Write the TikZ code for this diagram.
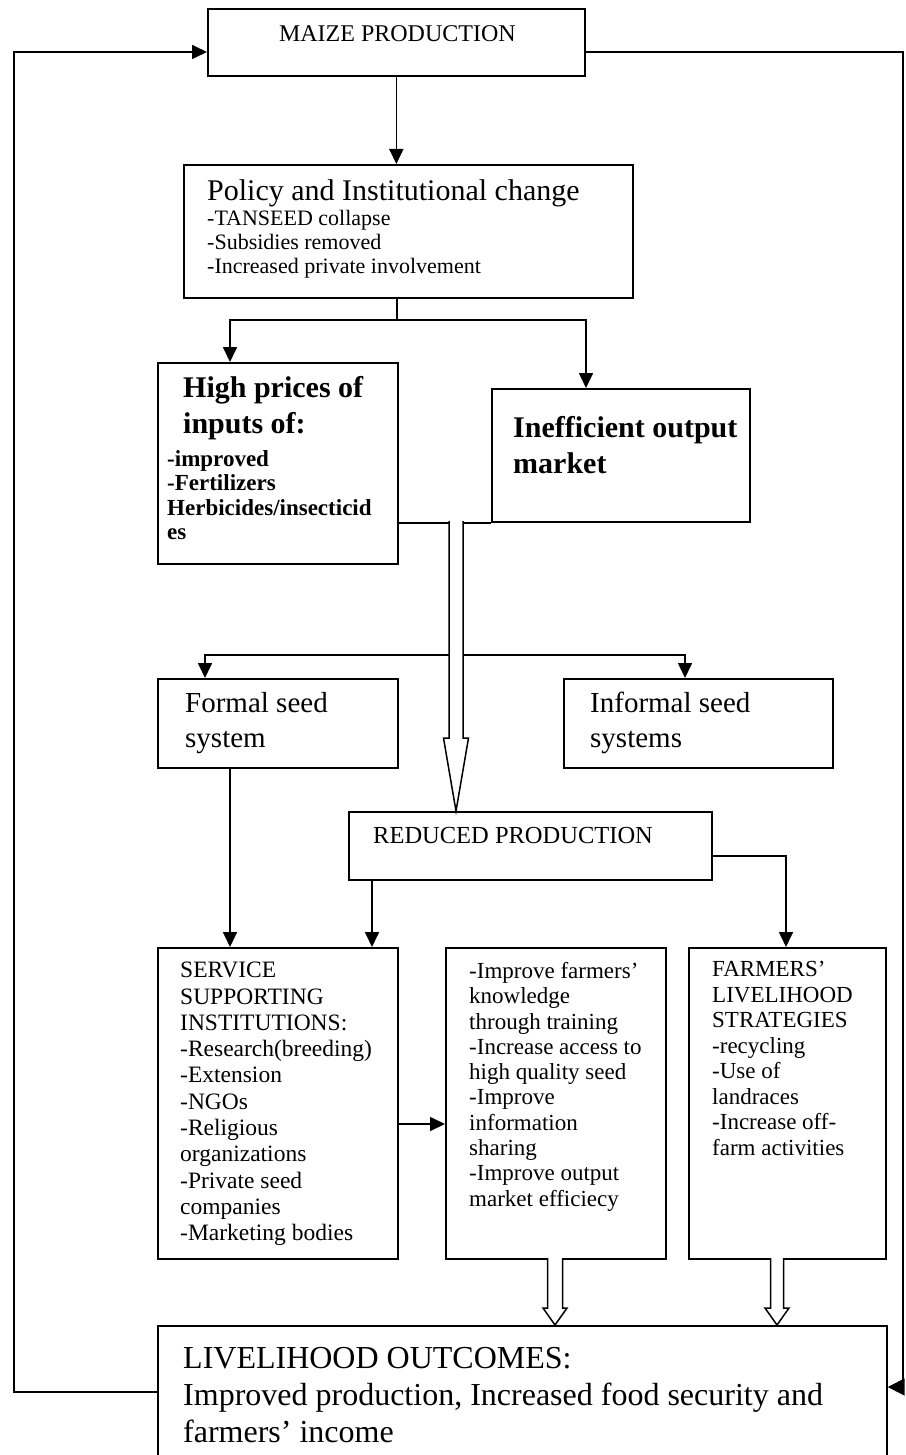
\documentclass[tikz,border=0pt]{standalone}
\usepackage{fontspec}
\setmainfont{Liberation Serif}
\usetikzlibrary{arrows.meta,calc}
\tikzset{
  box/.style={draw, line width=1.7pt, inner sep=0pt, anchor=north west},
  conn/.style={line width=1.7pt},
  arr/.style={conn, -{Triangle[length=15pt,width=14pt]}},
  bigarr/.style={conn, -{Triangle[length=17pt,width=17pt]}},
  hollow/.style={line width=1.5pt, fill=white, line join=miter},
  txt/.style={inner sep=0pt, anchor=north west, align=left},
}
\newcommand{\boxat}[5]{\node[box, minimum width=#4pt, minimum height=#5pt] (#1) at (#2,#3) {};}
\newcommand{\hollowdown}[6]{% x, ytop, yshaftend, ytip, halfshaft, halfhead
  \draw[hollow] (#1-#5,#2) -- (#1-#5,#3) -- (#1-#6,#3) -- (#1,#4) -- (#1+#6,#3) -- (#1+#5,#3) -- (#1+#5,#2);}
\begin{document}
\begin{tikzpicture}[x=1pt,y=-1pt]
\useasboundingbox (0,0) rectangle (905,1455);
% boxes
\boxat{maize}{207}{8}{377}{67}
\boxat{policy}{183}{164}{449}{133}
\boxat{high}{157}{362}{240}{201}
\boxat{ineff}{491}{388}{258}{133}
\boxat{formal}{157}{678}{240}{89}
\boxat{informal}{563}{678}{269}{89}
\boxat{reduced}{348}{811}{363}{68}
\boxat{service}{157}{947}{240}{311}
\boxat{middle}{445}{947}{220}{311}
\boxat{farmers}{688}{947}{197}{311}
\boxat{outcome}{157}{1325}{729}{140}
% texts
\node[txt, anchor=north, font=\fontsize{24}{28}\selectfont] (tmaize) at ($(maize.north)+(1,17)$) {MAIZE PRODUCTION};
\node[txt, font=\fontsize{30}{34}\selectfont] (tpol) at (207,179) {Policy and Institutional change};
\node[txt, font=\fontsize{22}{24}\selectfont] (tpol2) at (207,210) {-TANSEED collapse\\-Subsidies removed\\-Increased private involvement};
\node[txt, font=\bfseries\fontsize{30}{36}\selectfont] (thigh) at (183,376) {High prices of\\inputs of:};
\node[txt, font=\bfseries\fontsize{23}{24.5}\selectfont] (thigh2) at (167,450) {-improved\\-Fertilizers\\Herbicides/insecticid\\es};
\node[txt, font=\bfseries\fontsize{30}{36}\selectfont] (tineff) at (513,416) {Inefficient output\\market};
\node[txt, font=\fontsize{29}{35}\selectfont] (tformal) at (185,692) {Formal seed\\system};
\node[txt, font=\fontsize{29}{35}\selectfont] (tinformal) at (590,692) {Informal seed\\systems};
\node[txt, font=\fontsize{24.5}{28}\selectfont] (treduced) at (373,827) {REDUCED PRODUCTION};
\node[txt, font=\fontsize{23.5}{26.3}\selectfont] (tservice) at (180,962) {SERVICE\\SUPPORTING\\INSTITUTIONS:\\-Research(breeding)\\-Extension\\-NGOs\\-Religious\\organizations\\-Private seed\\companies\\-Marketing bodies};
\node[txt, font=\fontsize{23}{25.3}\selectfont] (tmiddle) at (469,962) {-Improve farmers’\\knowledge\\through training\\-Increase access to\\high quality seed\\-Improve\\information\\sharing\\-Improve output\\market efficiecy};
\node[txt, font=\fontsize{23}{25.5}\selectfont] (tfarmers) at (712,961) {FARMERS’\\LIVELIHOOD\\STRATEGIES\\-recycling\\-Use of\\landraces\\-Increase off-\\farm activities};
\node[txt, font=\fontsize{32}{37}\selectfont] (toutcome) at (183,1347) {LIVELIHOOD OUTCOMES:\\Improved production, Increased food security and\\farmers’ income};
% feedback loops
\coordinate (leftrail) at (14,52);
\coordinate (rightrail) at (903,52);
\draw[arr] ($(outcome.north west)+(0,67)$) -| (leftrail) -- ($(maize.north west)+(0,44)$);
\draw[bigarr] ($(maize.north east)+(0,44)$) -- (rightrail) |- ($(outcome.north east)+(0,62)$);
% maize -> policy
\draw[arr] (maize.south) -- (maize.south |- policy.north);
% policy -> high / ineff
\coordinate (pj) at (397,320);
\draw[conn] (policy.south -| pj) -- (pj);
\draw[arr] (pj) -| ($(high.north west)+(73,0)$);
\draw[arr] (pj) -| ($(ineff.north west)+(95,0)$);
% join line
\draw[conn] (high.east |- ineff.south) -- (ineff.south west);
% branches to seed systems
\coordinate (bj) at (449,655);
\coordinate (bj2) at (463,655);
\draw[arr] (bj) -| ($(formal.north west)+(48,0)$);
\draw[arr] (bj2) -| ($(informal.north west)+(122,0)$);
% big hollow arrow
\hollowdown{456}{521}{738}{811}{7}{12.5}
% formal -> service, reduced -> service, reduced -> farmers
\draw[arr] ($(formal.south west)+(73,0)$) -- ($(service.north west)+(73,0)$);
\draw[arr] ($(reduced.south west)+(24,0)$) -- ($(service.north west)+(215,0)$);
\draw[arr] ($(reduced.north east)+(0,45)$) -| ($(farmers.north west)+(98,0)$);
% service -> middle
\draw[arr] ($(service.north east)+(0,177)$) -- ($(middle.north west)+(0,177)$);
% hollow arrows to outcome
\hollowdown{555}{1258}{1308}{1325}{7.5}{12}
\hollowdown{777}{1258}{1308}{1325}{6.5}{12}
\end{tikzpicture}
\end{document}
